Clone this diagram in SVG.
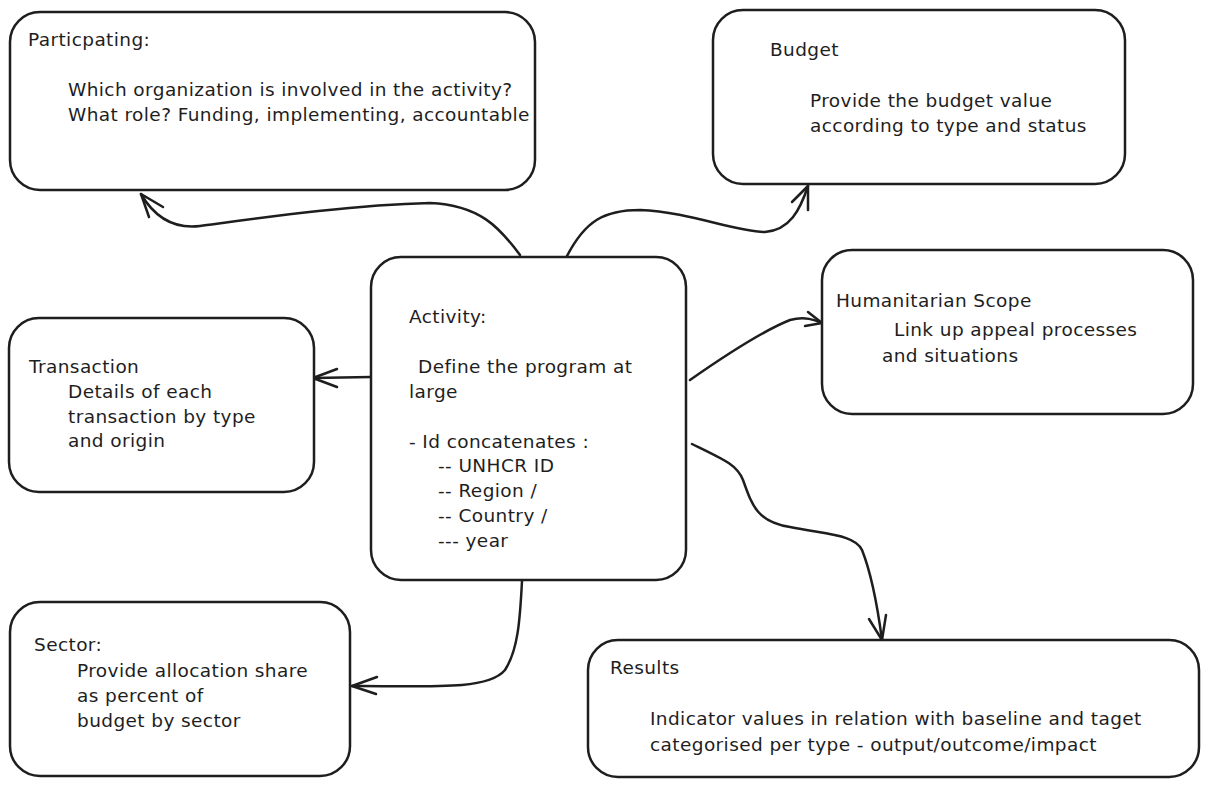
<svg xmlns="http://www.w3.org/2000/svg" width="1210" height="789" viewBox="0 0 1210 789">
<defs>
<style>
.box{fill:#ffffff;stroke:#1e1e1e;stroke-width:2.5}
.t{font-family:"DejaVu Sans","Liberation Sans",Arial,sans-serif;font-size:18.5px;letter-spacing:0.4px;fill:#1e1e1e}
.c{fill:none;stroke:#1e1e1e;stroke-width:2.5;stroke-linecap:round;stroke-linejoin:round}
</style>
</defs>
<rect width="1210" height="789" fill="#ffffff"/>
<g id="connectors">
<path class="c" d="M520,255 C500,228 480,205 430,203 C350,205 260,218 200,226 C175,229 155,218 141,194"/>
<path class="c" d="M149,217 L141,194 L163,207"/>
<path class="c" d="M566,258 C585,220 605,210 640,210 C690,212 735,232 765,232 C790,230 800,210 808,186"/>
<path class="c" d="M792,202 L808,186 L808,210"/>
<path class="c" d="M690,380 C730,352 765,330 790,320 C805,316 815,320 822,323"/>
<path class="c" d="M808,312 L822,323 L805,326"/>
<path class="c" d="M371,377 L313,378"/>
<path class="c" d="M337,369 L313,378 L337,387"/>
<path class="c" d="M692,444 C725,460 737,465 743,480 C752,505 757,522 790,527 C830,535 855,535 862,550 C872,575 878,610 882,640"/>
<path class="c" d="M869,619 L882,640 L886,615"/>
<path class="c" d="M522,581 C520,620 518,650 505,670 C490,688 450,687 352,686"/>
<path class="c" d="M377,677 L352,686 L376,694"/>
</g>
<g id="participating">
<rect class="box" x="10" y="12" width="525" height="178" rx="30"/>
<text class="t" x="28" y="46">Particpating:</text>
<text class="t" x="68" y="96">Which organization is involved in the activity?</text>
<text class="t" x="68" y="121">What role? Funding, implementing, accountable</text>
</g>
<g id="budget">
<rect class="box" x="713" y="10" width="412" height="174" rx="30"/>
<text class="t" x="770" y="56">Budget</text>
<text class="t" x="810" y="107">Provide the budget value</text>
<text class="t" x="810" y="132">according to type and status</text>
</g>
<g id="humanitarian">
<rect class="box" x="822" y="250" width="371" height="164" rx="30"/>
<text class="t" x="836" y="307">Humanitarian Scope</text>
<text class="t" x="894" y="336">Link up appeal processes</text>
<text class="t" x="882" y="362">and situations</text>
</g>
<g id="activity">
<rect class="box" x="371" y="257" width="315" height="323" rx="30"/>
<text class="t" x="409" y="323">Activity:</text>
<text class="t" x="418" y="373">Define the program at</text>
<text class="t" x="409" y="398">large</text>
<text class="t" x="409" y="448">- Id concatenates :</text>
<text class="t" x="438" y="472">-- UNHCR ID</text>
<text class="t" x="438" y="497">-- Region /</text>
<text class="t" x="438" y="522">-- Country /</text>
<text class="t" x="438" y="547">--- year</text>
</g>
<g id="transaction">
<rect class="box" x="9" y="318" width="305" height="174" rx="30"/>
<text class="t" x="29" y="373">Transaction</text>
<text class="t" x="68" y="398">Details of each</text>
<text class="t" x="68" y="423">transaction by type</text>
<text class="t" x="68" y="447">and origin</text>
</g>
<g id="sector">
<rect class="box" x="10" y="602" width="340" height="174" rx="30"/>
<text class="t" x="34" y="651">Sector:</text>
<text class="t" x="77" y="677">Provide allocation share</text>
<text class="t" x="77" y="702">as percent of</text>
<text class="t" x="77" y="727">budget by sector</text>
</g>
<g id="results">
<rect class="box" x="588" y="640" width="611" height="137" rx="30"/>
<text class="t" x="610" y="674">Results</text>
<text class="t" x="650" y="725">Indicator values in relation with baseline and taget</text>
<text class="t" x="650" y="751">categorised per type - output/outcome/impact</text>
</g>
</svg>
